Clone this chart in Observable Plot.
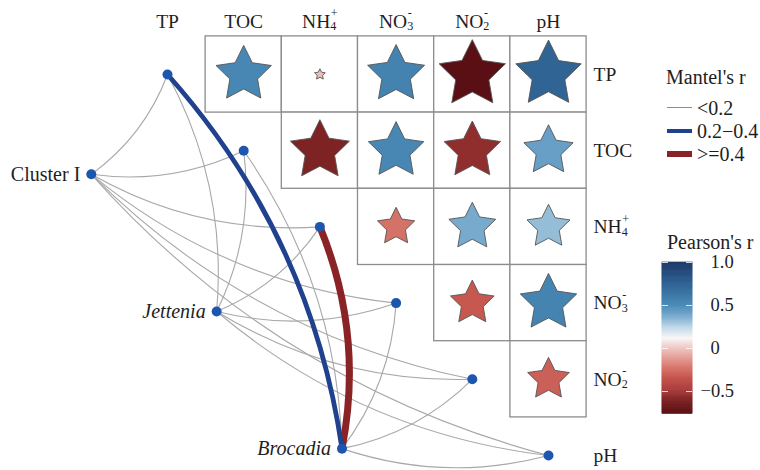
<!DOCTYPE html>
<html><head><meta charset="utf-8">
<script src="https://cdn.jsdelivr.net/npm/d3@7"></script>
<script src="https://cdn.jsdelivr.net/npm/@observablehq/plot@0.6"></script>
<style>
body{margin:0;background:#fff;}
#chart{position:relative;width:760px;height:470px;font-family:"Liberation Serif","Times New Roman",serif;color:#1e1e1e;overflow:hidden;}
#chart svg{position:absolute;}
.lg{position:absolute;font-size:20px;line-height:24px;height:24px;white-space:nowrap;}
.key{position:absolute;width:25px;}
</style></head><body><div id="chart"></div>
<script>
// ---------- data ----------
const envVars = ["TP", "TOC", "NH4+", "NO3-", "NO2-", "pH"];
// Pearson's r, upper triangle (row variable vs. the variables to its right)
const rowTP  = [0.53, -0.02, 0.56, -0.76, 0.74];
const rowTOC = [-0.6, 0.53, -0.55, 0.42];
const rowNH4 = [-0.24, 0.38, 0.32];
const rowNO3 = [-0.33, 0.55];
const rowNO2 = [-0.3];
const pearsonRows = [rowTP, rowTOC, rowNH4, rowNO3, rowNO2];

const species = ["Cluster I", "Jettenia", "Brocadia"];
const speciesItalic = [false, true, true];
// Mantel's r class of each species vs TP, TOC, NH4+, NO3-, NO2-, pH
const mantelClusterI = ["<0.2", "<0.2", "<0.2", "<0.2", "<0.2", "<0.2"];
const mantelJettenia = ["<0.2", "<0.2", "<0.2", "<0.2", "<0.2", "<0.2"];
const mantelBrocadia = ["0.2\u22120.4", "<0.2", ">=0.4", "<0.2", "<0.2", "<0.2"];
const mantelRows = [mantelClusterI, mantelJettenia, mantelBrocadia];
const mantelClasses = ["<0.2", "0.2\u22120.4", ">=0.4"];
const colorTicks = [1, 0.5, 0, -0.5];
const colorTickLabels = ["1.0", "0.5", "0", "\u22120.5"];
const colorLimits = [-0.76, 1];

// ---------- layout / style ----------
const FONT = "Liberation Serif, Times New Roman, serif";
const paletteStops = [-0.76, -0.6, -0.5, -0.35, -0.2, 0, 0.12, 0.25, 0.32, 0.4, 0.5, 0.75, 1];
const paletteColors = ["#5a0f14", "#7d2323", "#a43a3a", "#c3524b", "#da7d72", "#efc4c0", "#f8f7f7",
  "#bed7e8", "#96bdd8", "#6ea4ca", "#4b8cb7", "#2e6294", "#1c3a68"];
const mantelStyle = {
  "<0.2": {stroke: "#a8a8a8", width: 1.1, key: "#8c8c8c", keyW: 1.3},
  "0.2\u22120.4": {stroke: "#1f418e", width: 4.8, key: "#1f418e", keyW: 4},
  ">=0.4": {stroke: "#8a2326", width: 7, key: "#8a2326", keyW: 6}
};
const speciesFrom = [-1.0, 1.31], speciesTo = [2.29, 4.91]; // species nodes spread evenly on a line (grid units)
const BEND = 0.15;
const STAR_INNER = 0.5;

// ---------- derived tables ----------
const cells = [];
pearsonRows.forEach((vals, row) => vals.forEach((r, k) => cells.push({row, col: row + 1 + k, r})));
const envNodes = envVars.map((name, i) => ({name, x: i, y: i}));
const spNodes = species.map((name, s) => {
  const t = s / (species.length - 1);
  return {name, italic: speciesItalic[s],
    x: speciesFrom[0] + t * (speciesTo[0] - speciesFrom[0]),
    y: speciesFrom[1] + t * (speciesTo[1] - speciesFrom[1])};
});
const links = [];
mantelRows.forEach((cls, s) => cls.forEach((c, i) => links.push({x1: spNodes[s].x, y1: spNodes[s].y, x2: i, y2: i, cls: c})));

// curved link (quadratic arc bending to one side)
function arcCurve(context) {
  let pts = [];
  return {
    areaStart() {}, areaEnd() {},
    lineStart() { pts = []; },
    point(x, y) { pts.push([+x, +y]); },
    lineEnd() {
      const a = pts[0], b = pts[pts.length - 1];
      const dx = b[0] - a[0], dy = b[1] - a[1];
      context.moveTo(a[0], a[1]);
      context.quadraticCurveTo((a[0] + b[0]) / 2 - dy * BEND, (a[1] + b[1]) / 2 + dx * BEND, b[0], b[1]);
    }
  };
}
const starSymbol = {
  draw(ctx, size) {
    const R = Math.sqrt(size / Math.PI);
    for (let k = 0; k < 10; k++) {
      const a = k * Math.PI / 5, rr = k % 2 ? R * STAR_INNER : R;
      const x = rr * Math.sin(a), y = -rr * Math.cos(a);
      if (k) ctx.lineTo(x, y); else ctx.moveTo(x, y);
    }
    ctx.closePath();
  }
};

const linkMarks = ["<0.2", ">=0.4", "0.2\u22120.4"].map(c =>
  Plot.link(links.filter(d => d.cls === c), {
    x1: "x1", y1: "y1", x2: "x2", y2: "y2", curve: arcCurve,
    stroke: mantelStyle[c].stroke, strokeWidth: mantelStyle[c].width, strokeLinecap: "butt"
  }));

const colorScale = {type: "linear", domain: paletteStops, range: paletteColors, interpolate: "rgb"};

const main = Plot.plot({
  width: 760, height: 470, margin: 0,
  x: {type: "linear", domain: [0, 5], range: [167, 548], axis: null},
  y: {type: "linear", domain: [0, 5], range: [74, 455], axis: null},
  r: {type: "sqrt", domain: [0, 1], range: [0, 40]},
  color: colorScale,
  style: {fontFamily: FONT, fontSize: "19.5px", color: "#1e1e1e", background: "transparent"},
  marks: [
    Plot.rect(cells, {x1: d => d.col - 0.5, x2: d => d.col + 0.5, y1: d => d.row - 0.5, y2: d => d.row + 0.5,
      fill: "white", stroke: "#8c8c8c", strokeWidth: 1.3}),
    Plot.dot(cells, {x: "col", y: "row", r: d => Math.abs(d.r), fill: "r", symbol: starSymbol,
      stroke: "#555", strokeWidth: 0.9}),
    ...linkMarks,
    Plot.dot(envNodes.concat(spNodes), {x: "x", y: "y", r: 5, fill: "#1d56b0"}),
    Plot.text(envVars, {x: (d, i) => i, frameAnchor: "top", lineAnchor: "middle", dy: 21, text: d => d, fontSize: 19.5}),
    Plot.text(envVars, {x: envVars.length - 1, y: (d, i) => i, dx: 45, text: d => d, textAnchor: "start", fontSize: 19.5}),
    Plot.text(spNodes.filter(d => !d.italic), {x: "x", y: "y", text: "name", dx: -11, textAnchor: "end", fontSize: 20}),
    Plot.text(spNodes.filter(d => d.italic), {x: "x", y: "y", text: "name", dx: -11, textAnchor: "end", fontSize: 20, fontStyle: "italic"})
  ]
});

// chemical formula labels with subscript / superscript
const formula = {"NH4+": ["NH", "4", "+"], "NO3-": ["NO", "3", "-"], "NO2-": ["NO", "2", "-"]};
main.querySelectorAll("text").forEach(t => {
  const f = formula[t.textContent];
  if (!f) return;
  const ns = "http://www.w3.org/2000/svg";
  t.textContent = f[0];
  const sub = document.createElementNS(ns, "tspan");
  sub.setAttribute("font-size", "0.62em"); sub.setAttribute("dy", "0.2em"); sub.textContent = f[1];
  const sup = document.createElementNS(ns, "tspan");
  sup.setAttribute("font-size", "0.62em"); sup.setAttribute("dx", "-0.45em"); sup.setAttribute("dy", "-1.05em"); sup.textContent = f[2];
  t.append(sub, sup);
});

const chart = document.getElementById("chart");
main.style.left = "0px"; main.style.top = "0px";
chart.appendChild(main);

// colour bar (Pearson's r)
const barLeft = 650, barTop = 245;
const steps = d3.range(0, 176);
const stepSize = (colorLimits[1] - colorLimits[0]) / steps.length;
const bar = Plot.plot({
  width: 110, height: 190, margin: 0,
  x: {type: "linear", domain: [0, 1], range: [12, 42], axis: null},
  y: {type: "linear", domain: colorLimits, range: [168.4, 17], axis: null},
  color: colorScale,
  style: {fontFamily: FONT, fontSize: "18.5px", color: "#1e1e1e", background: "transparent"},
  marks: [
    Plot.rect(steps, {x1: 0, x2: 1,
      y1: d => colorLimits[0] + d * stepSize,
      y2: d => colorLimits[0] + (d + 1) * stepSize,
      fill: d => colorLimits[0] + (d + 0.5) * stepSize,
      stroke: d => colorLimits[0] + (d + 0.5) * stepSize, strokeWidth: 0.7}),
    Plot.ruleY(colorTicks, {x1: 0, x2: 0.2, stroke: "white", strokeOpacity: 0.8, strokeWidth: 1}),
    Plot.ruleY(colorTicks, {x1: 0.8, x2: 1, stroke: "white", strokeOpacity: 0.8, strokeWidth: 1}),
    Plot.text(colorTicks.map((v, i) => ({v, l: colorTickLabels[i]})).filter(d => d.v >= 0),
      {x: 1, y: "v", text: "l", dx: 18, textAnchor: "start", fontSize: 18.5}),
    Plot.text(colorTicks.map((v, i) => ({v, l: colorTickLabels[i]})).filter(d => d.v < 0),
      {x: 1, y: "v", text: "l", dx: 8, textAnchor: "start", fontSize: 18.5})
  ]
});
bar.style.left = barLeft + "px"; bar.style.top = barTop + "px";
chart.appendChild(bar);

// HTML legend pieces
function addText(txt, left, cy) {
  const d = document.createElement("div");
  d.className = "lg"; d.textContent = txt;
  d.style.left = left + "px"; d.style.top = (cy - 12) + "px";
  chart.appendChild(d);
}
addText("Mantel's r", 666, 77);
const rowY = [107.5, 130.5, 153.5];
mantelClasses.forEach((c, k) => {
  const s = mantelStyle[c];
  const key = document.createElement("div");
  key.className = "key";
  key.style.left = "667px"; key.style.top = (rowY[k] - s.keyW / 2) + "px";
  key.style.height = s.keyW + "px"; key.style.background = s.key;
  chart.appendChild(key);
  addText(c, 697, rowY[k]);
});
addText("Pearson's r", 667, 241.5);
</script></body></html>
